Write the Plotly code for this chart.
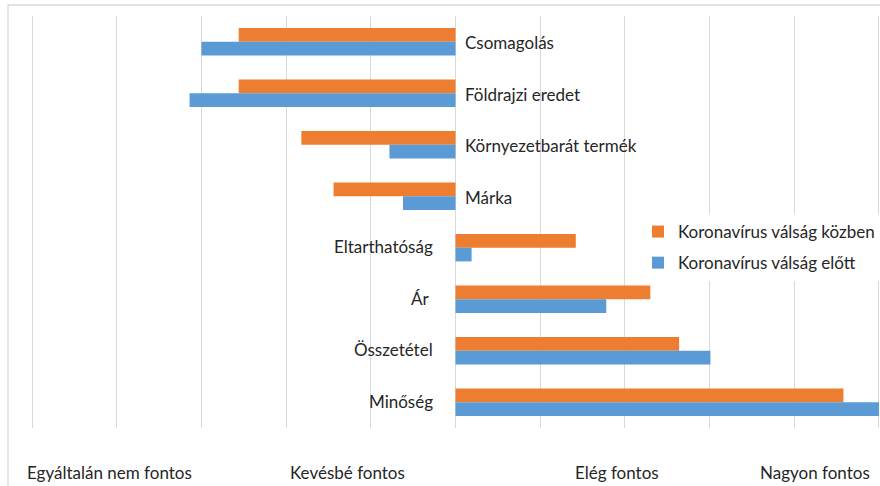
import plotly.graph_objects as go

categories = ["Csomagolás", "Földrajzi eredet", "Környezetbarát termék", "Márka",
              "Eltarthatóság", "Ár ", "Összetétel", "Minőség"]
during = [-2.56, -2.56, -1.82, -1.44, 1.42, 2.30, 2.64, 4.58]
before = [-3.00, -3.14, -0.78, -0.62, 0.19, 1.78, 3.01, 5.00]
series_names = ["Koronavírus válság közben", "Koronavírus válság előtt"]
scale_labels = ["Egyáltalán nem fontos", "Kevésbé fontos", "Elég fontos", "Nagyon fontos"]
scale_pos = [-4.09, -1.28, 1.91, 4.25]

FONT = "Lato"
FS = 17
TXT = "#262626"
fig = go.Figure()
fig.add_trace(go.Bar(y=categories, x=during, orientation="h", name=series_names[0],
                     legendgroup="a", marker=dict(color="#ED7D31", line=dict(width=0))))
fig.add_trace(go.Bar(y=categories, x=before, orientation="h", name=series_names[1],
                     legendgroup="b", marker=dict(color="#5B9BD5", line=dict(width=0))))

annotations = []
for c, d, b in zip(categories, during, before):
    if d + b < 0:
        annotations.append(dict(x=0, y=c, xref="x", yref="y", text=c, showarrow=False,
                                xanchor="left", xshift=7, yshift=-1,
                                font=dict(family=FONT, size=FS, color=TXT)))
    else:
        annotations.append(dict(x=0, y=c, xref="x", yref="y", text=c, showarrow=False,
                                xanchor="right", xshift=-21, yshift=1,
                                font=dict(family=FONT, size=FS, color=TXT)))

H = 486
W = 880
l, r, t, b = 30, 0, 16, 58
ph = H - t - b
pw = W - l - r
for lab, p in zip(scale_labels, scale_pos):
    annotations.append(dict(x=p, y=(H - b - 472) / ph, xref="x", yref="paper", text=lab,
                            showarrow=False, xanchor="center", yanchor="middle",
                            font=dict(family=FONT, size=FS, color=TXT)))

fig.update_layout(
    width=W, height=H,
    margin=dict(l=l, r=r, t=t, b=b),
    paper_bgcolor="white", plot_bgcolor="white",
    barmode="group", bargap=0.47, bargroupgap=0,
    font=dict(family=FONT, size=FS, color=TXT),
    xaxis=dict(range=[-5.024, 5.012], dtick=1, tick0=0, showticklabels=False, showgrid=True,
               gridcolor="#d9d9d9", gridwidth=1.3, zeroline=False, showline=False),
    yaxis=dict(autorange="reversed", showticklabels=False, showgrid=False,
               zeroline=False, showline=False),
    legend=dict(x=(638 - l) / pw, y=(H - b - 214) / ph, xanchor="left", yanchor="top",
                bgcolor="rgba(255,255,255,1)", traceorder="grouped",
                font=dict(family=FONT, size=FS, color=TXT),
                itemwidth=30, tracegroupgap=6),
    annotations=annotations,
    showlegend=True,
    shapes=[dict(type="rect", xref="paper", yref="paper",
                 x0=(8 - l) / pw, x1=(900 - l) / pw,
                 y0=(H - b - 500) / ph, y1=(H - b - 5) / ph,
                 line=dict(color="#d9d9d9", width=1.3), fillcolor="rgba(0,0,0,0)",
                 layer="below")],
)
fig.write_html("out.html", config={"displayModeBar": False})

with open("out.html", "r", encoding="utf-8") as f:
    html = f.read()
html = html.replace("<head>", "<head><style>html,body{margin:0;padding:0;overflow:hidden;}</style>", 1)
with open("out.html", "w", encoding="utf-8") as f:
    f.write(html)
